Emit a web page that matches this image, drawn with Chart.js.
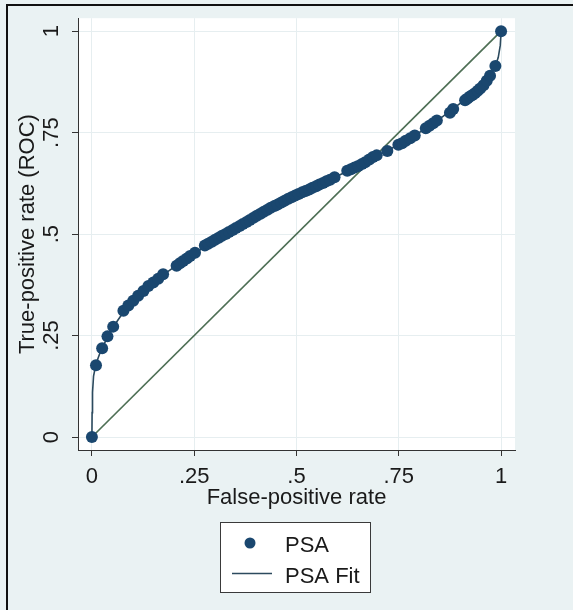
<!DOCTYPE html>
<html><head><meta charset="utf-8">
<script src="https://cdn.jsdelivr.net/npm/chart.js@4"></script>
<style>html,body{margin:0;padding:0;background:#EAF2F3}#wrap{position:relative;width:573px;height:610px}</style>
</head><body><div id="wrap"><canvas id="c"></canvas></div>
<script>
// ---- data ----
const seriesNames = ['PSA', 'PSA Fit'];
const psaFPR = [0,0.010,0.025,0.038,0.052,0.077,0.089,0.101,0.113,0.126,0.138,0.150,0.162,0.174,0.207,0.215,0.223,0.232,0.240,0.252,0.276,0.284,0.293,0.301,0.310,0.318,0.327,0.335,0.344,0.352,0.361,0.369,0.378,0.386,0.395,0.403,0.412,0.420,0.429,0.437,0.446,0.454,0.463,0.471,0.480,0.488,0.497,0.505,0.514,0.522,0.531,0.539,0.548,0.556,0.565,0.573,0.582,0.593,0.624,0.633,0.642,0.651,0.660,0.668,0.678,0.687,0.696,0.722,0.749,0.758,0.767,0.778,0.789,0.816,0.825,0.834,0.843,0.875,0.883,0.912,0.918,0.924,0.930,0.936,0.943,0.949,0.957,0.965,0.973,0.986,1];
const psaTPR = [0,0.177,0.219,0.248,0.272,0.311,0.324,0.336,0.348,0.360,0.372,0.381,0.390,0.401,0.422,0.428,0.434,0.440,0.446,0.454,0.472,0.476,0.481,0.486,0.491,0.496,0.500,0.505,0.510,0.515,0.520,0.525,0.530,0.535,0.540,0.545,0.550,0.555,0.560,0.565,0.569,0.573,0.578,0.582,0.587,0.591,0.595,0.599,0.603,0.606,0.610,0.614,0.618,0.622,0.626,0.630,0.634,0.640,0.656,0.660,0.664,0.668,0.673,0.677,0.684,0.690,0.694,0.705,0.720,0.724,0.730,0.736,0.743,0.761,0.767,0.773,0.780,0.799,0.808,0.830,0.834,0.839,0.843,0.847,0.853,0.859,0.867,0.878,0.890,0.914,1];
const fitFPR = [0,0.0005,0.0015,0.004,0.010,0.020,0.035,0.050,0.075,0.100,0.125,0.150,0.175,0.200,0.250,0.300,0.350,0.400,0.450,0.500,0.550,0.600,0.650,0.700,0.750,0.800,0.850,0.900,0.950,0.970,0.985,0.993,0.998,1];
const fitTPR = [0,0.060,0.110,0.150,0.180,0.208,0.240,0.268,0.305,0.335,0.360,0.381,0.400,0.418,0.452,0.484,0.514,0.543,0.571,0.597,0.620,0.643,0.667,0.695,0.720,0.750,0.784,0.822,0.862,0.885,0.912,0.935,0.965,1];
const refFPR = [0, 1];
const refTPR = [0, 1];
const tickValues = [0, 0.25, 0.5, 0.75, 1];
const tickLabels = ['0', '.25', '.5', '.75', '1'];

// ---- styles ----
const NAVY = '#1A476F', FITC = '#2C4A5E', REFC = '#4E6F55';
const GRID = '#E6EEF0', AXIS = '#333333', TXT = '#1a1a1a', BG = '#EAF2F3';
const FONT = {family: "'Liberation Sans', Arial, sans-serif", size: 22};

const pts = (xs, ys) => xs.map((x, i) => ({x: x, y: ys[i]}));

const bgPlugin = {
  id: 'bg',
  beforeDraw(chart) {
    const {ctx, chartArea: a, width, height} = chart;
    ctx.save();
    ctx.fillStyle = BG; ctx.fillRect(0, 0, width, height);
    ctx.fillStyle = '#ffffff'; ctx.fillRect(a.left, a.top, a.right - a.left, a.bottom - a.top);
    ctx.strokeStyle = '#111'; ctx.lineWidth = 2;
    ctx.beginPath(); ctx.moveTo(7, height); ctx.lineTo(7, 5); ctx.lineTo(width, 5); ctx.stroke();
    ctx.restore();
  }
};

const legendPlugin = {
  id: 'boxLegend',
  afterDraw(chart) {
    const {ctx} = chart;
    const ds = chart.data.datasets;
    ctx.save();
    ctx.fillStyle = '#ffffff';
    ctx.fillRect(220.5, 522.5, 150, 70);
    ctx.strokeStyle = '#3a3a3a'; ctx.lineWidth = 1;
    ctx.strokeRect(220.5, 522.5, 150, 70);
    ctx.fillStyle = ds[0].backgroundColor;
    ctx.beginPath(); ctx.arc(250, 543, 5.5, 0, Math.PI * 2); ctx.fill();
    ctx.strokeStyle = ds[1].borderColor; ctx.lineWidth = 1.5;
    ctx.beginPath(); ctx.moveTo(232, 573.5); ctx.lineTo(272, 573.5); ctx.stroke();
    ctx.fillStyle = TXT;
    ctx.font = FONT.size + 'px ' + FONT.family;
    ctx.textBaseline = 'alphabetic'; ctx.textAlign = 'left';
    ctx.fillText(ds[0].label, 285, 552);
    ctx.fillText(ds[1].label, 285, 583);
    ctx.restore();
  }
};

new Chart(document.getElementById('c'), {
  type: 'scatter',
  data: {datasets: [
    {label: seriesNames[0], data: pts(psaFPR, psaTPR), backgroundColor: NAVY, borderColor: NAVY,
     pointRadius: 6, pointHoverRadius: 6, pointBorderWidth: 0, showLine: false},
    {label: seriesNames[1], data: pts(fitFPR, fitTPR), showLine: true, borderColor: FITC,
     backgroundColor: FITC, borderWidth: 1.6, pointRadius: 0, fill: false, tension: 0},
    {label: '', data: pts(refFPR, refTPR), showLine: true, borderColor: REFC,
     backgroundColor: REFC, borderWidth: 1.7, pointRadius: 0, fill: false}
  ]},
  options: {
    responsive: true, maintainAspectRatio: false, animation: false,
    layout: {padding: {left: 0, top: 16, right: 58, bottom: 98}},
    plugins: {legend: {display: false}, tooltip: {enabled: false}},
    scales: {
      x: {
        type: 'linear', min: -0.034, max: 1.034,
        afterBuildTicks: s => { s.ticks = tickValues.map(v => ({value: v})); },
        afterFit: s => { s.height = 62; },
        ticks: {callback: (v, i) => tickLabels[i], font: FONT, color: TXT, padding: 8,
                minRotation: 0, maxRotation: 0, autoSkip: false},
        grid: {color: GRID, lineWidth: 1, tickColor: AXIS, tickLength: 6, drawTicks: true},
        border: {display: true, color: AXIS, width: 1},
        title: {display: true, text: 'False-positive rate', font: FONT, color: TXT, padding: {top: 0, bottom: 1}}
      },
      y: {
        type: 'linear', min: -0.032, max: 1.032,
        afterBuildTicks: s => { s.ticks = tickValues.map(v => ({value: v})); },
        afterFit: s => { s.width = 78; },
        ticks: {callback: (v, i) => tickLabels[i], font: FONT, color: TXT, padding: 5,
                minRotation: 90, maxRotation: 90, crossAlign: 'center', autoSkip: false},
        grid: {color: GRID, lineWidth: 1, tickColor: AXIS, tickLength: 6, drawTicks: true},
        border: {display: true, color: AXIS, width: 1},
        title: {display: true, text: 'True-positive rate (ROC)', font: FONT, color: TXT, padding: {top: 15, bottom: 0}}
      }
    }
  },
  plugins: [bgPlugin, legendPlugin]
});
</script>
</body></html>
